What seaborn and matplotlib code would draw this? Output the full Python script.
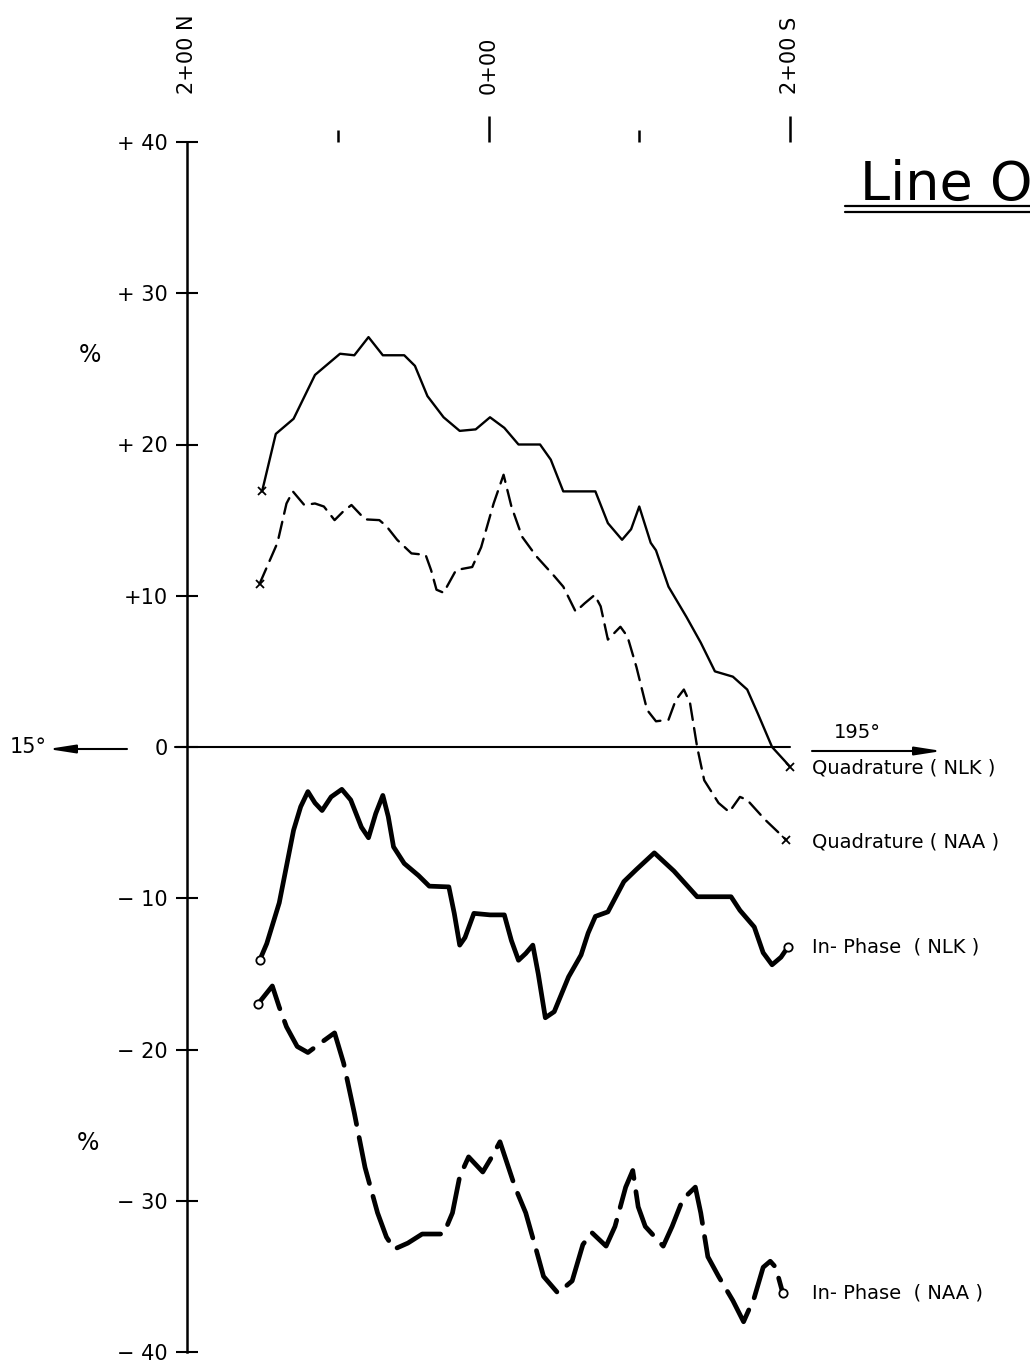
import numpy as np
import seaborn as sns
import matplotlib.pyplot as plt
from matplotlib.lines import Line2D

sns.set_style('white')
plt.rcParams['font.family'] = ['DejaVu Sans']
plt.rcParams['text.color'] = 'k'
plt.rcParams['xtick.color'] = 'k'
plt.rcParams['ytick.color'] = 'k'
plt.rcParams['axes.edgecolor'] = 'k'

# station along line, feet from 2+00 N (0 = 2+00 N, 200 = 0+00, 400 = 2+00 S)
quad_nlk_x = [49.8, 58.9, 70.7, 84.9, 92.0, 101.5, 111.0, 120.4, 129.9, 144.1, 151.2, 159.5,
              170.2, 180.9, 191.5, 201.0, 210.5, 219.9, 234.2, 241.3, 249.6, 270.9, 279.2,
              288.6, 294.6, 300.0, 307.6, 311.1, 319.4, 331.3, 340.8, 350.2, 362.1, 371.6,
              378.7, 388.1, 400.0]
quad_nlk_y = [16.9, 20.7, 21.7, 24.6, 25.2, 26.0, 25.9, 27.1, 25.9, 25.9, 25.2, 23.2,
              21.8, 20.9, 21.0, 21.8, 21.1, 20.0, 20.0, 19.0, 16.9, 16.9, 14.8,
              13.7, 14.4, 15.9, 13.5, 13.0, 10.6, 8.6, 6.9, 5.0, 4.65, 3.8,
              2.2, 0.0, -1.3]

quad_naa_x = [48.2, 60.0, 66.0, 70.2, 77.8, 84.9, 90.8, 97.9, 103.9, 109.1, 118.1, 127.6,
              132.3, 139.4, 148.9, 158.3, 161.9, 165.5, 170.2, 178.5, 189.2, 195.1, 203.4,
              210.0, 215.2, 222.3, 231.8, 243.6, 249.6, 257.8, 263.8, 270.4, 274.4, 279.2,
              287.5, 292.2, 298.1, 305.2, 311.1, 319.4, 324.2, 329.6, 333.7, 338.4, 343.1,
              352.6, 359.7, 366.8, 371.6, 383.4, 397.6]
quad_naa_y = [10.8, 13.5, 16.1, 16.9, 16.0, 16.1, 15.9, 15.0, 15.6, 16.0, 15.05, 15.0,
              14.6, 13.7, 12.8, 12.7, 11.7, 10.4, 10.2, 11.7, 11.9, 13.2, 16.1,
              18.0, 15.9, 13.9, 12.6, 11.3, 10.6, 8.95, 9.5, 10.05, 9.3, 7.1,
              7.95, 7.3, 5.3, 2.45, 1.7, 1.8, 3.1, 3.8, 2.9, 0.0, -2.2,
              -3.7, -4.3, -3.3, -3.5, -4.8, -6.15]

inph_nlk_x = [48.2, 52.9, 61.2, 70.7, 75.4, 80.2, 84.9, 89.6, 95.6, 102.7, 108.6, 115.7,
              120.4, 125.2, 129.9, 133.5, 137.0, 144.1, 153.6, 160.7, 173.7, 177.3, 180.9,
              184.4, 190.3, 201.0, 210.5, 215.2, 219.9, 224.7, 229.4, 233.0, 237.7, 243.6,
              253.1, 261.4, 266.1, 270.9, 279.2, 289.8, 298.1, 310.0, 323.0, 338.4, 350.2,
              360.9, 366.8, 376.3, 382.2, 388.1, 394.0, 398.8]
inph_nlk_y = [-14.1, -13.0, -10.3, -5.5, -3.95, -2.95, -3.7, -4.2, -3.3, -2.8, -3.5, -5.3,
              -6.0, -4.4, -3.2, -4.6, -6.6, -7.7, -8.5, -9.2, -9.25, -11.0, -13.1,
              -12.6, -11.0, -11.1, -11.1, -12.8, -14.1, -13.65, -13.1, -15.0, -17.9, -17.5,
              -15.2, -13.75, -12.3, -11.2, -10.9, -8.9, -8.1, -7.0, -8.2, -9.9, -9.9,
              -9.9, -10.8, -11.9, -13.6, -14.4, -13.9, -13.2]

inph_naa_x = [47.0, 56.6, 61.2, 66.0, 73.1, 80.2, 89.6, 97.9, 103.9, 111.0, 118.1, 126.4,
              132.3, 137.5, 146.5, 156.0, 170.2, 176.1, 180.9, 186.8, 196.2, 202.2, 207.6,
              211.6, 217.6, 224.7, 231.8, 236.5, 246.0, 255.5, 262.6, 268.5, 278.0, 283.9,
              291.0, 295.7, 299.3, 304.0, 315.9, 321.8, 328.9, 337.2, 340.8, 345.5, 352.6,
              362.1, 369.2, 376.3, 382.2, 386.9, 390.5, 395.2]
inph_naa_y = [-17.0, -15.8, -17.2, -18.5, -19.8, -20.2, -19.5, -18.9, -20.9, -24.2, -27.8, -30.8,
              -32.4, -33.2, -32.8, -32.2, -32.2, -30.8, -28.4, -27.1, -28.1, -27.1, -26.1,
              -27.3, -29.1, -30.8, -33.3, -35.0, -36.1, -35.3, -32.9, -32.1, -33.0, -31.7,
              -29.1, -28.0, -30.4, -31.7, -33.0, -31.7, -29.9, -29.1, -30.8, -33.7, -35.0,
              -36.6, -38.0, -36.4, -34.4, -34.0, -34.4, -36.1]

ytick_vals = [40, 30, 20, 10, 0, -10, -20, -30, -40]
ytick_text = ['+ 40', '+ 30', '+ 20', '+10', '0', '\u2212 10', '\u2212 20', '\u2212 30', '\u2212 40']
station_pos = [0, 200, 400]
station_text = ['2+00 N', '0+00', '2+00 S']

W, H = 1030, 1362
fig = plt.figure(figsize=(W / 100, H / 100), dpi=100)
ax = fig.add_axes([187 / W, 10 / H, 603 / W, 1210 / H])
ax.set_xlim(0, 400)
ax.set_ylim(-40, 40)

thin, thick = 1.7, 3.4
sns.lineplot(x=quad_nlk_x, y=quad_nlk_y, ax=ax, color='k', lw=thin, sort=False)
sns.lineplot(x=quad_naa_x, y=quad_naa_y, ax=ax, color='k', lw=thin, sort=False,
             linestyle=(0, (7, 3.5)))
sns.lineplot(x=inph_nlk_x, y=inph_nlk_y, ax=ax, color='k', lw=thick, sort=False)
sns.lineplot(x=inph_naa_x, y=inph_naa_y, ax=ax, color='k', lw=thick, sort=False,
             linestyle=(0, (10, 2.8)))
for ln in ax.lines:
    ln.set_solid_joinstyle('round')
    ln.set_dash_capstyle('round')
    ln.set_clip_on(False)

# end markers
for xs, ys in [(quad_nlk_x, quad_nlk_y), (quad_naa_x, quad_naa_y)]:
    ax.plot([xs[0], xs[-1]], [ys[0], ys[-1]], ls='none', marker='x', ms=6, mew=1.3,
            color='k', clip_on=False)
for xs, ys in [(inph_nlk_x, inph_nlk_y), (inph_naa_x, inph_naa_y)]:
    ax.plot([xs[0], xs[-1]], [ys[0], ys[-1]], ls='none', marker='o', ms=6, mew=1.3,
            mfc='white', color='k', clip_on=False)

# axes styling
for side in ['top', 'right', 'bottom']:
    ax.spines[side].set_visible(False)
ax.spines['left'].set_linewidth(1.8)
ax.axhline(0, xmin=-0.02, xmax=1.0, color='k', lw=1.5, clip_on=False)
ax.set_yticks(ytick_vals)
ax.set_yticklabels(ytick_text, fontsize=15)
ax.tick_params(axis='y', left=True, direction='inout', length=16, width=1.5, pad=6)

ax.set_xticks([200, 400])
ax.set_xticks([100, 300], minor=True)
ax.tick_params(axis='x', which='both', bottom=False, top=True, labelbottom=False,
               labeltop=False, direction='out', width=1.8, pad=0)
ax.tick_params(axis='x', which='major', length=19)
ax.tick_params(axis='x', which='minor', length=9)

tr = ax.get_xaxis_transform()
for p, t in zip(station_pos, station_text):
    ax.text(p, 1.04, t, transform=tr, rotation=90, ha='center', va='bottom',
            fontsize=15)

# text and arrows in figure pixels (top-origin)
def fp(x, y):
    return (x / W, 1 - y / H)

fig.text(*fp(90, 355), '%', fontsize=17, ha='center', va='center')
fig.text(*fp(88, 1143), '%', fontsize=17, ha='center', va='center')

fig.text(*fp(860, 185), 'Line O', fontsize=39, ha='left', va='center')
for yy in [206, 212]:
    fig.add_artist(Line2D([845 / W, 1.0], [1 - yy / H] * 2, color='k', lw=1.6))

fig.text(*fp(28, 747), '15\u00b0', fontsize=15, ha='center', va='center')
ax.annotate('', xy=fp(48, 749), xytext=fp(127, 749), xycoords='figure fraction',
            textcoords='figure fraction',
            arrowprops=dict(arrowstyle='-|>,head_length=1.6,head_width=0.25',
                            color='k', lw=1.5, shrinkA=0, shrinkB=0))
fig.text(*fp(857, 733), '195\u00b0', fontsize=14, ha='center', va='center')
ax.annotate('', xy=fp(942, 751), xytext=fp(812, 751), xycoords='figure fraction',
            textcoords='figure fraction',
            arrowprops=dict(arrowstyle='-|>,head_length=1.6,head_width=0.25',
                            color='k', lw=1.5, shrinkA=0, shrinkB=0))

labels = [(768, 'Quadrature ( NLK )'), (842, 'Quadrature ( NAA )'),
          (947, 'In- Phase  ( NLK )'), (1293, 'In- Phase  ( NAA )')]
for yy, t in labels:
    fig.text(*fp(812, yy), t, fontsize=14, ha='left', va='center')

fig.savefig('out.png', dpi=100, facecolor='white')
